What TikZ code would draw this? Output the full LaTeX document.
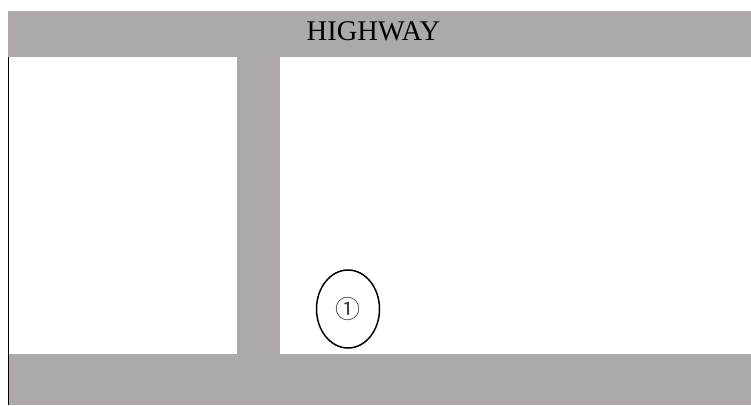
\documentclass[tikz,border=0pt]{standalone}
\usepackage{fontspec}
\setmainfont{Liberation Serif}
\newfontfamily\symfont{Noto Sans CJK JP}
\usetikzlibrary{shapes.geometric}
\definecolor{roadgray}{RGB}{173,169,168}
\begin{document}
\begin{tikzpicture}[x=1pt,y=-1pt,
  road/.style={fill=roadgray,draw=none},
  label/.style={font=\fontsize{28.5}{30}\selectfont, inner sep=0pt},
  site/.style={ellipse, draw=black, line width=1.5pt, minimum width=63pt, minimum height=78pt, inner sep=0pt},
  num/.style={font=\symfont\fontsize{25}{27}\selectfont, text=black!75, inner sep=0pt}]
\useasboundingbox (0,0) rectangle (751,405);
\fill[white] (0,0) rectangle (751,405);
\path[road] (8,11) rectangle (751,57);
\path[road] (237,57) rectangle (280,354);
\path[road] (8,354) rectangle (751,405);
\draw[black, line width=1pt] (8,57) -- (8,405);
\node[label] (hw) at (373.5,31) {HIGHWAY};
\node[site] (s1) at (348,309) {};
\node[num] (n1) at (s1.center) {①};
\end{tikzpicture}
\end{document}
